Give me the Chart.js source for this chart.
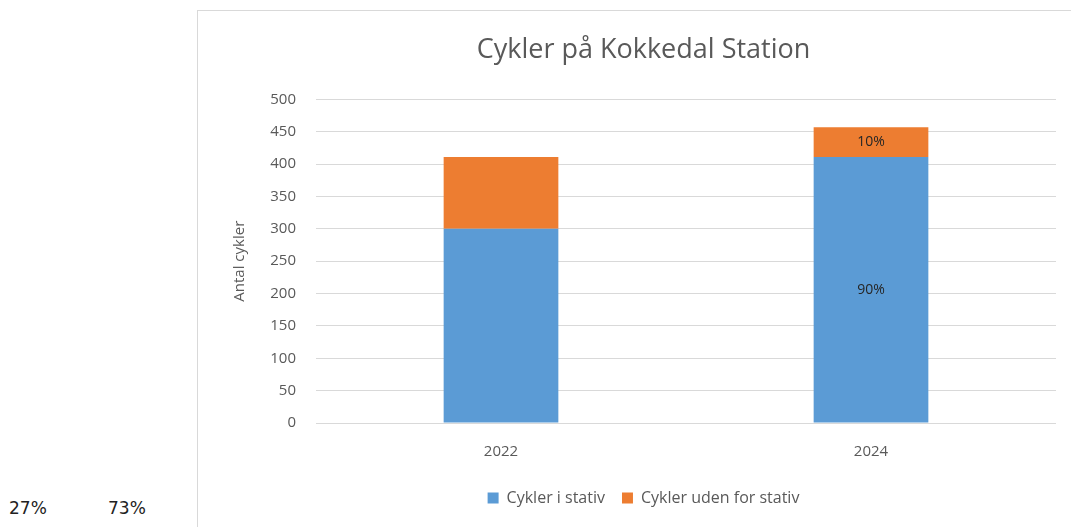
<!DOCTYPE html>
<html>
<head>
<meta charset="utf-8">
<script src="https://cdn.jsdelivr.net/npm/chart.js@4"></script>
<style>
  body { margin: 0; background: #fff; width: 1071px; height: 527px; overflow: hidden; position: relative; }
  #box { position: absolute; left: 197px; top: 10px; width: 900px; height: 540px; border: 1px solid #d9d9d9; }
  #wrap { position: absolute; left: 198px; top: 11px; width: 873px; height: 516px; }
  .pct { position: absolute; top: 498px; font-family: "DejaVu Sans", sans-serif; font-size: 17px; color: #222; }
</style>
</head>
<body>
<div id="box"></div>
<div id="wrap"><canvas id="myChart"></canvas></div>
<div class="pct" style="left:9px">27%</div>
<div class="pct" style="left:108px">73%</div>
<script>
const years = ["2022", "2024"];
const iStativ = [300, 411];
const udenForStativ = [111, 46];
const iStativLabels = ["", "90%"];
const udenLabels = ["", "10%"];
const yTicks = [0, 50, 100, 150, 200, 250, 300, 350, 400, 450, 500];

const fontFamily = "'Open Sans', 'Noto Sans', sans-serif";

const barLabels = {
  id: "barLabels",
  afterDatasetsDraw(chart) {
    const ctx = chart.ctx;
    const sets = [iStativLabels, udenLabels];
    ctx.save();
    ctx.font = "14px " + fontFamily;
    ctx.fillStyle = "#262626";
    ctx.textAlign = "center";
    ctx.textBaseline = "middle";
    sets.forEach((labels, di) => {
      chart.getDatasetMeta(di).data.forEach((bar, i) => {
        if (!labels[i]) return;
        const y = (bar.y + bar.base) / 2;
        ctx.fillText(labels[i], bar.x, y);
      });
    });
    ctx.restore();
  },
};

const ctx = document.getElementById("myChart");
new Chart(ctx, {
  type: "bar",
  data: {
    labels: years,
    datasets: [
      { label: "Cykler i stativ", data: iStativ, backgroundColor: "#5b9bd5" },
      { label: "Cykler uden for stativ", data: udenForStativ, backgroundColor: "#ed7d31" },
    ],
  },
  options: {
    responsive: true,
    maintainAspectRatio: false,
    animation: false,
    layout: { padding: { left: 33, right: 15, top: 0, bottom: 11 } },
    datasets: { bar: { categoryPercentage: 0.31, barPercentage: 1 } },
    plugins: {
      title: {
        display: true,
        text: "Cykler på Kokkedal Station",
        color: "#595959",
        font: { family: fontFamily, size: 27, weight: "normal" },
        padding: { top: 23, bottom: 33 },
      },
      legend: {
        position: "bottom",
        labels: {
          color: "#595959",
          font: { family: fontFamily, size: 16 },
          boxWidth: 11,
          boxHeight: 11,
          padding: 17,
        },
      },
      tooltip: { enabled: false },
    },
    scales: {
      x: {
        stacked: true,
        grid: { display: false },
        border: { display: false },
        ticks: { color: "#595959", font: { family: fontFamily, size: 15 }, padding: 12 },
      },
      y: {
        stacked: true,
        min: 0,
        max: 500,
        afterBuildTicks: (scale) => { scale.ticks = yTicks.map((v) => ({ value: v })); },
        afterFit: (scale) => { scale.width = 85; },
        grid: { color: "#d9d9d9", drawTicks: false },
        border: { display: false },
        ticks: { color: "#595959", font: { family: fontFamily, size: 15 }, padding: 20 },
        title: {
          display: true,
          text: "Antal cykler",
          color: "#595959",
          font: { family: fontFamily, size: 15 },
          padding: { top: 0, bottom: 0 },
        },
      },
    },
  },
  plugins: [barLabels],
});
</script>
</body>
</html>
